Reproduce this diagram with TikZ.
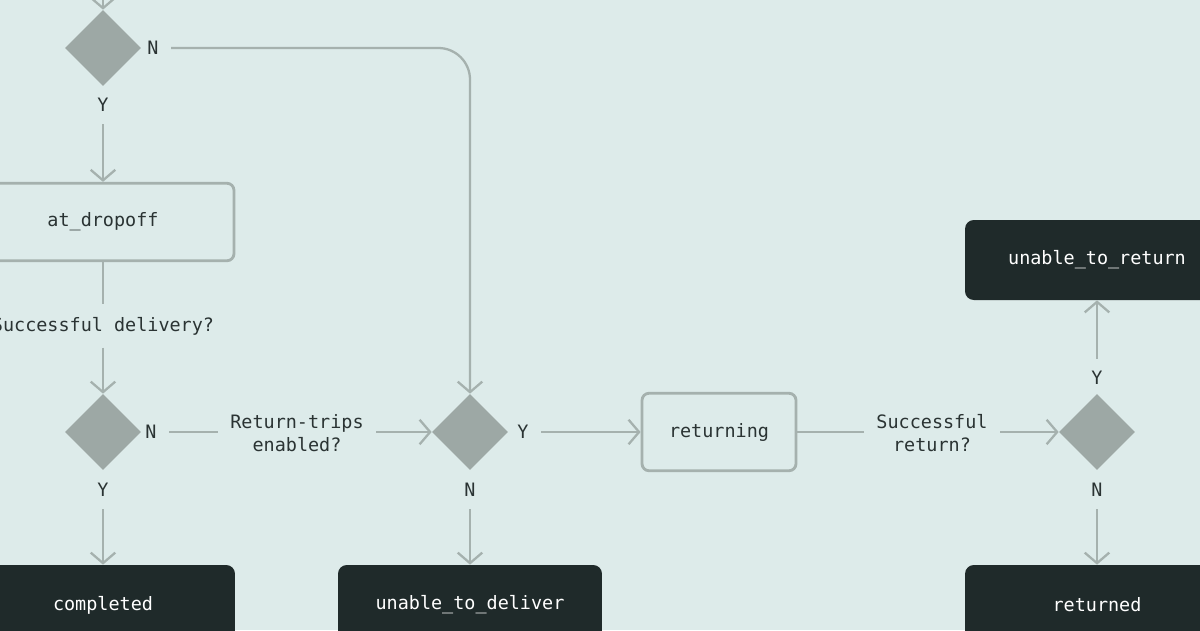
\documentclass[tikz,border=0pt]{standalone}
\usepackage{fontspec}
\setmonofont{DejaVu Sans Mono}
\usepackage{xcolor}
\usetikzlibrary{shapes.geometric,arrows.meta,positioning}
\definecolor{bgc}{HTML}{DDEBEA}
\definecolor{linec}{HTML}{A5B1AE}
\definecolor{diac}{HTML}{9DA8A5}
\definecolor{darkc}{HTML}{1F2A2A}
\definecolor{textc}{HTML}{2A3333}

\begin{document}
\begin{tikzpicture}[
    x=0.02cm, y=-0.02cm,
    font=\ttfamily\fontsize{10.5pt}{13pt}\selectfont, text=textc,
    decision/.style={diamond, fill=diac, minimum size=1.52cm, inner sep=0pt},
    state/.style={draw=linec, line width=1.6pt, rounded corners=4pt, fill=bgc, minimum height=1.55cm},
    final/.style={fill=darkc, rounded corners=5pt, text=white, minimum height=1.6cm},
    tag/.style={inner sep=7pt, align=center},
    arrow/.style={-{Straight Barb[length=6pt,width=14pt]}, draw=linec, line width=1.3pt},
    link/.style={draw=linec, line width=1.3pt}
]
    \clip (0,0) rectangle (1200,630);
    \fill[bgc] (0,0) rectangle (1200,630);

    % decisions
    \node[decision] (arrived) at (103,48) {};
    \node[decision] (delivered) at (103,432) {};
    \node[decision] (canreturn) at (470,432) {};
    \node[decision] (backhome) at (1097,432) {};

    % states
    \node[state, minimum width=5.24cm] (dropoff) at (103,222) {at\_dropoff};
    \node[state, minimum width=3.08cm] (returning) at (719,432) {returning};
    \node[final, minimum width=5.28cm] (completed) at (103,605) {completed};
    \node[final, minimum width=5.28cm] (undeliv) at (470,605) {unable\_to\_deliver};
    \node[final, minimum width=5.28cm] (returned) at (1097,605) {returned};
    \node[final, minimum width=5.28cm] (unreturn) at (1097,260) {unable\_to\_return};

    % labels
    \node[tag] (arrivedN) at (153,48) {N};
    \node[tag] (arrivedY) at (103,105) {Y};
    \node[tag] (askdeliv) at (103,326) {Successful delivery?};
    \node[tag] (deliveredN) at (151,432) {N};
    \node[tag] (deliveredY) at (103,490) {Y};
    \node[tag] (asktrips) at (297,433) {Return-trips\\enabled?};
    \node[tag] (canreturnY) at (523,432) {Y};
    \node[tag] (canreturnN) at (470,490) {N};
    \node[tag] (askreturn) at (932,433) {Successful\\return?};
    \node[tag] (backhomeY) at (1097,378) {Y};
    \node[tag] (backhomeN) at (1097,490) {N};
    \coordinate (incoming) at (103,-10);

    \draw[arrow] (incoming) -- (arrived);
    \draw[arrow, rounded corners=18pt] (arrivedN) -| (canreturn);
    \draw[arrow] (arrivedY) -- (dropoff);
    \draw[link] (dropoff) -- (askdeliv);
    \draw[arrow] (askdeliv) -- (delivered);
    \draw[link] (deliveredN) -- (deliveredN -| asktrips.west);
    \draw[arrow] (asktrips.east |- canreturn) -- (canreturn);
    \draw[arrow] (deliveredY) -- (completed);
    \draw[arrow] (canreturnY) -- (returning);
    \draw[arrow] (canreturnN) -- (undeliv);
    \draw[link] (returning) -- (returning -| askreturn.west);
    \draw[arrow] (askreturn.east |- backhome) -- (backhome);
    \draw[arrow] (backhomeY) -- (unreturn);
    \draw[arrow] (backhomeN) -- (returned);
\end{tikzpicture}
\end{document}
